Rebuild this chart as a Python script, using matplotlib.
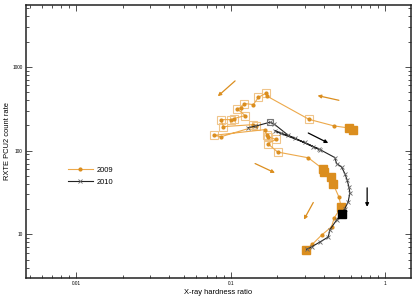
import matplotlib
matplotlib.use("Agg")
import matplotlib.pyplot as plt
import numpy as np

ORANGE = "#db8e1f"
ORANGE_LINE = "#eda94b"
ORANGE_BOX = "#f0c58a"

# 2009 outburst: hardness ratio / PCU2 count rate
hr_2009 = [0.618, 0.580, 0.464, 0.320, 0.172, 0.169, 0.151, 0.140, 0.1225, 0.1166,
           0.1093, 0.1238, 0.105, 0.101, 0.0862, 0.0897, 0.140, 0.1457, 0.0862, 0.078,
           0.1665, 0.1708, 0.1733, 0.196, 0.1733, 0.201, 0.317, 0.396, 0.402, 0.4416,
           0.4596, 0.500, 0.5176, 0.4665, 0.448, 0.3865, 0.3364, 0.3047]
rate_2009 = [178, 186, 197, 236, 445, 483, 433, 354, 364, 323,
             317, 262, 241, 234, 234, 193, 204, 195, 146, 152,
             178, 152, 146, 136, 121, 96, 82, 60, 56, 48.5,
             39.7, 28.0, 21.3, 15.7, 12.3, 9.8, 7.6, 6.5]
# which 2009 points carry an open box / a large filled box
box_2009 = [3, 5, 6, 8, 10, 11, 12, 13, 14, 15, 16, 17, 19, 21, 22, 23, 24, 25]
big_2009 = [0, 1, 27, 28, 29, 30, 32, 37]

# 2010 outburst
hr_2010 = [0.130, 0.1436, 0.1794, 0.1913, 0.2355, 0.3415, 0.371, 0.300, 0.210, 0.193,
           0.260, 0.380, 0.471, 0.483,
           0.520, 0.5464, 0.566, 0.580, 0.589, 0.574, 0.5464, 0.520, 0.483, 0.4375,
           0.4267, 0.377, 0.333, 0.309]
rate_2010 = [188, 195, 218, 206, 152, 110.6, 104, 125, 160, 172,
             140, 102, 82.5, 70,
             63.8, 53.2, 44.3, 36.9, 31.3, 24.4, 20.3, 17.6, 14.8, 11.4,
             9.3, 8.1, 7.1, 6.6]
grey_box_2010 = 2
black_box_2010 = 21

# direction arrows: (x_start, y_start, x_end, y_end, colour)
arrows = [
    (0.1066, 678, 0.0824, 445, ORANGE),
    (0.500, 398, 0.364, 453, ORANGE),
    (0.317, 162, 0.4267, 123, "black"),
    (0.1436, 70, 0.193, 54.2, ORANGE),
    (0.3415, 24.0, 0.297, 15.0, ORANGE),
    (0.7616, 35.9, 0.7616, 21.3, "black"),
]

plt.rcParams["font.family"] = ["Liberation Sans", "DejaVu Sans"]

fig = plt.figure(figsize=(4.15, 3.01), dpi=100)
ax = fig.add_axes([0.063, 0.077, 0.927, 0.906])

hr9 = np.array(hr_2009)
r9 = np.array(rate_2009)
hr10 = np.array(hr_2010)
r10 = np.array(rate_2010)

ax.plot(hr9[box_2009], r9[box_2009], ls="none", marker="s", ms=5.2, mfc="none",
        mec=ORANGE_BOX, mew=0.8, zorder=2)
ax.plot(hr9, r9, color=ORANGE_LINE, lw=0.8, marker="o", ms=2.0, mfc=ORANGE,
        mec=ORANGE, label="2009", zorder=3)
ax.plot(hr9[big_2009], r9[big_2009], ls="none", marker="s", ms=5.5, color=ORANGE, zorder=4)

ax.plot(hr10, r10, color="#222222", lw=0.8, marker="x", ms=2.5, mec="#666666",
        mew=0.6, label="2010", zorder=5)
ax.plot(hr10[grey_box_2010], r10[grey_box_2010], ls="none", marker="s", ms=5.0,
        mfc="none", mec="#777777", mew=0.8, zorder=6)
ax.plot(hr10[black_box_2010], r10[black_box_2010], ls="none", marker="s", ms=5.5,
        color="black", zorder=6)

for x0, y0, x1, y1, c in arrows:
    ax.annotate("", xy=(x1, y1), xytext=(x0, y0),
                arrowprops=dict(arrowstyle="-|>", color=c, lw=0.9,
                                mutation_scale=5, shrinkA=0, shrinkB=0))

ax.set_xscale("log")
ax.set_yscale("log")
ax.set_xlim(0.00475, 1.46)
ax.set_ylim(3.03, 5440)
ax.set_xticks([0.01, 0.1, 1])
ax.set_xticklabels(["0.01", "0.1", "1"])
ax.set_yticks([10, 100, 1000])
ax.set_yticklabels(["10", "100", "1000"])
ax.tick_params(which="both", direction="in", top=True, right=True, labelsize=3.4,
               width=0.6, color="#333333", pad=2.5)
ax.tick_params(which="major", length=4)
ax.tick_params(which="minor", length=2)
for s in ax.spines.values():
    s.set_linewidth(1.1)
    s.set_color("#222222")

ax.set_xlabel("X-ray hardness ratio", fontsize=5.4, labelpad=2)
ax.set_ylabel("RXTE PCU2 count rate", fontsize=5.4, labelpad=1)

ax.legend(loc="upper left", bbox_to_anchor=(0.09, 0.432), frameon=False,
          fontsize=5.4, handlelength=3.4, handletextpad=0.45, labelspacing=0.6)

fig.savefig("out.png", dpi=100)
